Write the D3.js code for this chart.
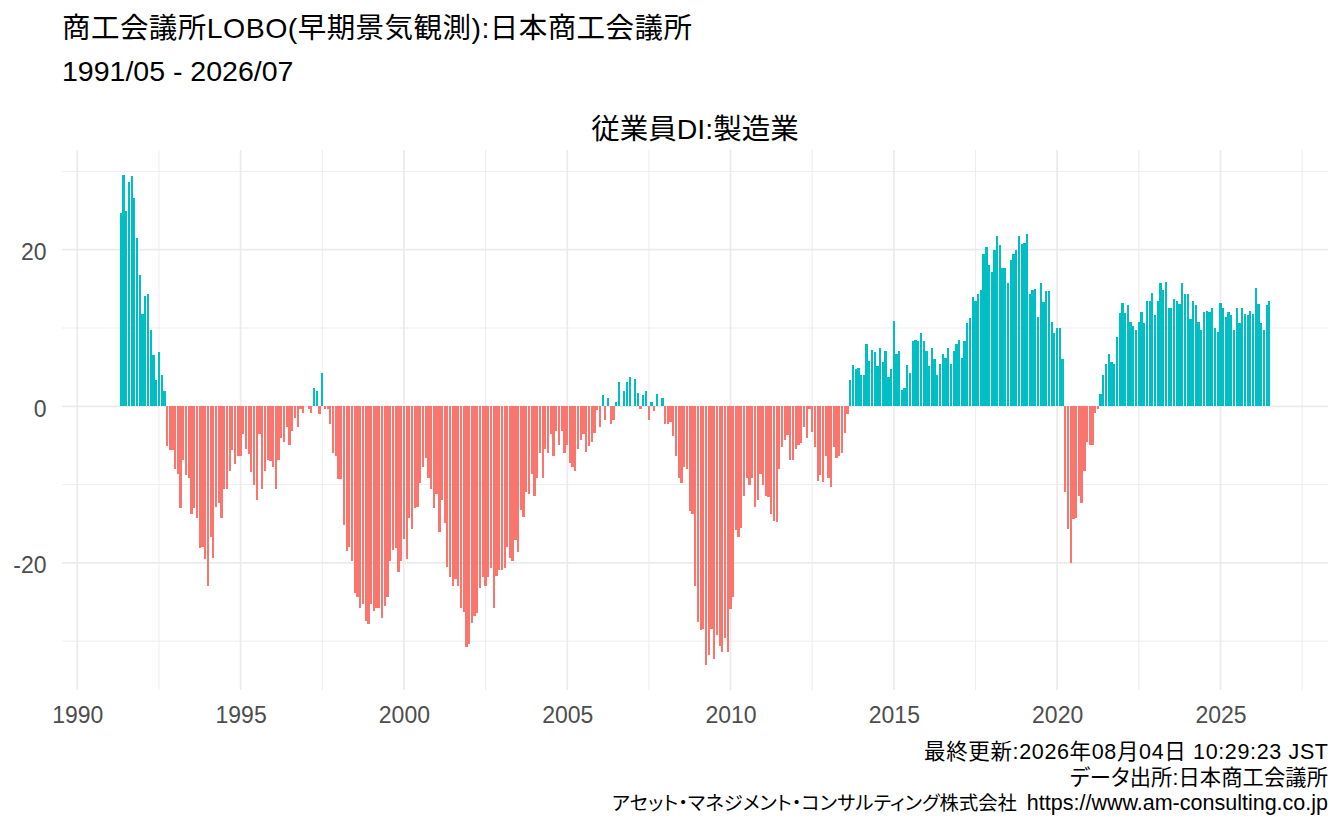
<!DOCTYPE html>
<html>
<head>
<meta charset="utf-8">
<script src="https://cdn.jsdelivr.net/npm/d3@7"></script>
<style>
  body { margin: 0; background: #fff; }
  text { font-family: "Liberation Sans", "Noto Sans CJK JP", sans-serif; }
</style>
</head>
<body>
<svg id="plot"></svg>
<script>
// monthly employment DI (manufacturing), first month = 1991/05
var startMonth = "1991-05";

var di1991_1999 = [
  24.7, 29.6, 24.9, 28.7, 29.4, 26.6, 21.5, 16.8,
  11.8, 14.1, 14.4, 9.8, 6.5, 3.3, 6.9, 4.0, 1.9, -5.1, -5.6, -5.6, -8.0, -8.7,
  -13.0, -6.9, -8.8, -9.2, -13.8, -13.0, -14.3, -18.1, -18.0, -19.5, -23.0, -16.7,
  -19.4, -12.9, -12.4, -14.3, -10.6, -10.6, -8.3, -5.6, -7.4, -6.4, -6.4, -3.6,
  -5.5, -6.1, -8.4, -10.0, -12.0, -3.6, -10.6, -8.3, -6.9, -7.0, -7.8, -10.6,
  -6.8, -4.1, -4.5, -2.7, -4.9, -3.2, -1.5, -2.6, -0.4, -0.9, 0, -0.3,
  -0.9, 2.3, 1.9, -1.0, 4.3, -0.4, -0.3, -2.2, -6.0, -6.4, -9.3, -9.3,
  -15.2, -18.5, -18.0, -19.7, -23.9, -24.4, -25.8, -25.3, -27.4, -27.8, -25.3, -26.2,
  -25.7, -25.8, -27.1, -25.5, -24.4, -19.8, -18.4, -18.1, -21.2, -19.7
];
var di2000_2009 = [
  -17.0, -19.5, -14.3, -15.7, -13.0, -12.8, -9.8, -7.7, -6.6, -9.2, -10.5, -13.0,
  -11.2, -16.1, -12.0, -14.9, -20.5, -21.8, -22.9, -22.0, -23.0, -25.7, -26.3, -30.7,
  -30.3, -27.7, -26.8, -26.4, -23.2, -21.8, -22.9, -21.8, -20.6, -25.7, -21.7, -20.9,
  -20.9, -20.7, -18.0, -19.4, -19.7, -17.1, -18.6, -13.3, -14.2, -11.0, -11.2, -8.7,
  -11.5, -9.2, -6.0, -9.2, -5.4, -6.0, -3.6, -6.3, -3.2, -5.0, -3.2, -6.0,
  -5.0, -7.3, -7.8, -8.3, -5.4, -4.3, -3.6, -5.9, -5.1, -4.6, -3.4, -0.5,
  -2.7, 1.5, -1.7, 1.0, -2.3, -1.8, 0.6, 3.1, 0.1, 1.9, 3.1, 3.8,
  0, 3.5, 1.7, -0.3, 1.4, 1.9, -1.8, 0.5, -0.6, 1.6, 0, 1.0,
  -2.2, -2.2, -2.0, -3.8, -6.3, -9.2, -9.8, -7.8, -8.0, -13.4, -13.8, -23.0,
  -27.6, -28.6, -28.5, -33.1, -31.8, -28.5, -32.3, -29.2, -30.6, -31.4, -29.6, -31.4
];
var di2010_2019 = [
  -25.9, -24.3, -15.8, -16.7, -15.6, -11.5, -9.2, -10.0, -9.2, -12.9, -12.0, -8.7,
  -10.1, -11.4, -11.6, -13.7, -14.6, -14.8, -8.0, -5.2, -4.3, -3.7, -6.9, -6.8,
  -5.5, -4.9, -4.7, -2.7, -4.1, -0.3, -3.3, -5.2, -9.6, -8.8, -9.7, -6.4,
  -9.2, -10.3, -5.2, -6.6, -6.3, -6.0, -3.4, -1.0, 3.4, 5.3, 4.7, 4.9,
  4.0, 4.0, 8.0, 5.8, 7.2, 6.9, 5.1, 7.5, 5.6, 7.0, 3.8, 4.7,
  10.9, 6.7, 7.1, 2.1, 2.3, 5.3, 4.2, 8.4, 8.5, 8.4, 9.4, 8.4,
  7.0, 5.2, 7.5, 6.0, 4.0, 5.4, 6.7, 6.2, 7.5, 5.4, 7.1, 8.0,
  8.5, 6.2, 8.4, 10.6, 11.3, 14.0, 13.5, 14.4, 14.9, 19.4, 20.3, 18.1,
  17.2, 19.9, 21.7, 20.6, 17.6, 17.6, 15.7, 18.7, 19.5, 20.0, 21.7, 20.7,
  20.9, 22.0, 14.4, 14.9, 15.0, 11.4, 15.7, 13.3, 14.7, 14.7, 10.8, 9.4
];
var di2020_2026 = [
  10.0, 10.0, 6.1, -10.9, -15.7, -20.0, -14.4, -14.3, -11.5, -12.3, -8.2, -4.6,
  -5.0, -5.0, -0.9, -0.4, 1.6, 4.0, 5.4, 6.7, 5.6, 5.4, 8.9, 11.9,
  13.2, 11.9, 13.0, 10.8, 10.2, 9.7, 10.8, 12.1, 10.7, 13.5, 13.5, 14.5,
  11.6, 13.5, 15.7, 14.9, 15.9, 12.6, 12.6, 13.7, 13.5, 13.1, 15.8, 14.3,
  14.4, 11.1, 13.5, 13.0, 10.8, 9.8, 12.1, 12.2, 12.1, 12.5, 10.0, 9.5,
  13.2, 12.6, 11.4, 12.1, 11.6, 9.7, 12.6, 10.7, 12.6, 11.8, 11.7, 12.2,
  11.8, 15.1, 13.1, 10.6, 9.8, 12.9, 13.5
];

var yMajor = [-20, 0, 20];
var yMinor = [-30, -10, 10, 30];
var xMajorYears = [1990, 1995, 2000, 2005, 2010, 2015, 2020, 2025];

var titleLines = ["商工会議所LOBO(早期景気観測):日本商工会議所", "1991/05 - 2026/07"];
var plotTitle = "従業員DI:製造業";
var captionLine1 = "最終更新:2026年08月04日 10:29:23 JST";
var captionLine2 = "データ出所:日本商工会議所";
var captionCompany = "アセット・マネジメント・コンサルティング株式会社";
var captionUrl = "https://www.am-consulting.co.jp";

var posColor = "#00BFC4", negColor = "#F8766D", gridColor = "#ebebeb";

var values = di1991_1999.concat(di2000_2009, di2010_2019, di2020_2026);
var t0 = d3.timeParse("%Y-%m")(startMonth);
var data = values.map(function(v, i) { return {date: d3.timeMonth.offset(t0, i), value: v}; });

var W = 1344, H = 830;
var margin = {top: 150, right: 16, bottom: 140, left: 62},
  width = W - margin.left - margin.right,
  height = H - margin.top - margin.bottom;

var svg = d3.select("#plot").attr("width", W).attr("height", H);

// bar half width: 0.9 * 28 days / 2
var DAY = 86400000, half = 12.6 * DAY;
var lo = +data[0].date - half, hi = +data[data.length - 1].date + half, span = hi - lo;
var x = d3.scaleTime()
  .domain([new Date(lo - 0.05 * span), new Date(hi + 0.05 * span)])
  .range([0, width]);

var yMin = Math.min(0, d3.min(values)), yMax = Math.max(0, d3.max(values)), ySpan = yMax - yMin;
var y = d3.scaleLinear()
  .domain([yMin - 0.05 * ySpan, yMax + 0.05 * ySpan])
  .range([height, 0]);

var g = svg.append("g").attr("transform", "translate(" + margin.left + "," + margin.top + ")");

// grid
var xMajor = xMajorYears.map(function(yr) { return new Date(yr, 0, 1); });
var xMinor = [];
for (var k = 0; k < xMajor.length; k++) {
  var a = +xMajor[k], b = k + 1 < xMajor.length ? +xMajor[k + 1] : +xMajor[k] + (+xMajor[k] - +xMajor[k - 1]);
  var m = new Date((a + b) / 2);
  if (m <= x.domain()[1]) xMinor.push(m);
}

function hLines(vals, w) {
  g.append("g").selectAll("line").data(vals).enter().append("line")
    .attr("x1", 0).attr("x2", width)
    .attr("y1", function(d) { return y(d); }).attr("y2", function(d) { return y(d); })
    .attr("stroke", gridColor).attr("stroke-width", w);
}
function vLines(vals, w) {
  g.append("g").selectAll("line").data(vals).enter().append("line")
    .attr("y1", 0).attr("y2", height)
    .attr("x1", function(d) { return x(d); }).attr("x2", function(d) { return x(d); })
    .attr("stroke", gridColor).attr("stroke-width", w);
}
hLines(yMinor, 0.9);
vLines(xMinor, 0.9);
hLines(yMajor, 1.7);
vLines(xMajor, 1.7);

// bars
g.append("g").attr("shape-rendering", "crispEdges")
  .selectAll("rect").data(data).enter().append("rect")
  .attr("x", function(d) { return x(new Date(+d.date - half)); })
  .attr("width", function(d) { return x(new Date(+d.date + half)) - x(new Date(+d.date - half)); })
  .attr("y", function(d) { return y(Math.max(0, d.value)); })
  .attr("height", function(d) { return Math.abs(y(d.value) - y(0)); })
  .attr("fill", function(d) { return d.value >= 0 ? posColor : negColor; });

// axes
var xAxis = g.append("g")
  .attr("transform", "translate(0," + height + ")")
  .call(d3.axisBottom(x).tickValues(xMajor).tickFormat(d3.timeFormat("%Y")).tickSize(0).tickPadding(17));
var yAxis = g.append("g")
  .call(d3.axisLeft(y).tickValues(yMajor).tickFormat(function(d) { return String(d); })
    .tickSize(0).tickPadding(15.5));
yAxis.selectAll("text").attr("dy", "0.43em");
[xAxis, yAxis].forEach(function(ax) {
  ax.select(".domain").remove();
  ax.selectAll("text").attr("fill", "#4d4d4d").style("font-size", "23px")
    .style("font-family", "'Liberation Sans', 'Noto Sans CJK JP', sans-serif");
});

// titles
svg.selectAll(".title").data(titleLines).enter().append("text")
  .attr("class", "title")
  .attr("x", 62).attr("y", function(d, i) { return 38 + i * 43; })
  .attr("fill", "#000").style("font-size", "28.5px")
  .text(function(d) { return d; });
svg.select(".title").attr("textLength", 630).attr("lengthAdjust", "spacing");

svg.append("text")
  .attr("x", margin.left + width / 2).attr("y", 139)
  .attr("text-anchor", "middle").attr("fill", "#000").style("font-size", "28.5px")
  .text(plotTitle);

// caption, right aligned to the panel edge
var capRight = margin.left + width, capSize = 21.5;
function caption(txt, xPos, yb, anchor) {
  return svg.append("text")
    .attr("x", xPos).attr("y", yb).attr("text-anchor", anchor)
    .attr("fill", "#000").style("font-size", capSize + "px")
    .style("font-feature-settings", "'palt'")
    .text(txt);
}
// shrink the font until the text fits, then spread it to the wanted length
function fitText(t, len) {
  var nat = t.node().getComputedTextLength();
  if (nat > len) {
    t.style("font-size", (capSize * len / nat - 0.1) + "px");
    nat = t.node().getComputedTextLength();
  }
  t.attr("textLength", len).attr("lengthAdjust", "spacing");
}
fitText(caption(captionLine1, capRight, 759, "end"), 404);
fitText(caption(captionLine2, capRight, 785, "end"), 258);
var urlText = caption(captionUrl, capRight, 810, "end");
var urlW = urlText.node().getComputedTextLength();
var compLeft = 612, compRight = capRight - urlW - 10;
fitText(caption(captionCompany, compLeft, 810, "start"), compRight - compLeft);
</script>
</body>
</html>
